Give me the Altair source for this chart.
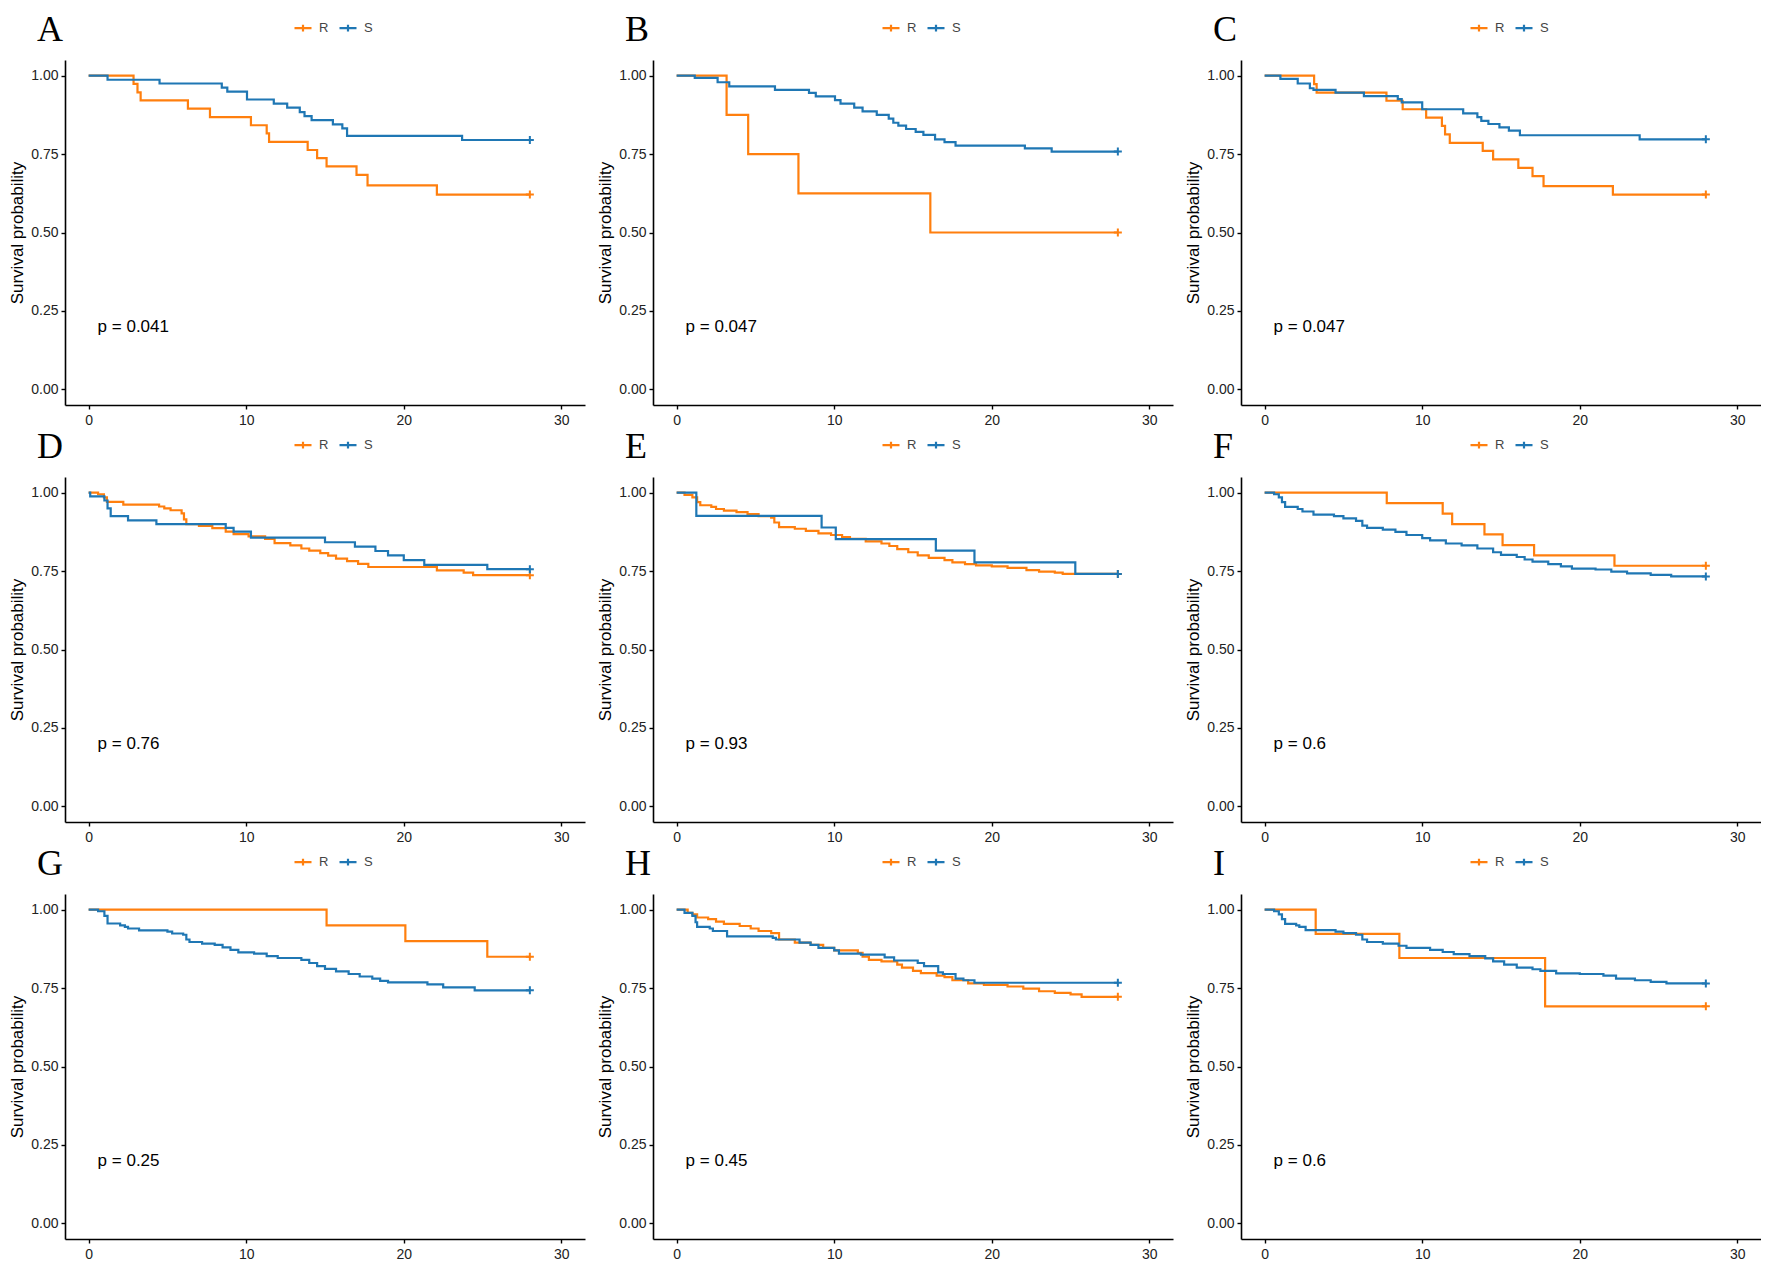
import altair as alt
import pandas as pd

ORANGE = "#FF7F0E"
BLUE = "#1F77B4"
GROUPS = ["R", "S"]
LETTERS = ["A", "B", "C", "D", "E", "F", "G", "H", "I"]
PVALS = ["p = 0.041", "p = 0.047", "p = 0.047", "p = 0.76", "p = 0.93",
         "p = 0.6", "p = 0.25", "p = 0.45", "p = 0.6"]
X_TICKS = [0, 10, 20, 30]
Y_TICKS = [0.0, 0.25, 0.5, 0.75, 1.0]
PVAL_X = [0.57]
PVAL_Y = [0.2]

# ---- Panel A ----
A_R_t = [0, 2.85, 3.1, 3.3, 6.3, 7.7, 10.3, 11.3, 11.45, 13.9, 14.5, 15.1, 17.0, 17.7, 22.1, 28.0]
A_R_s = [1.0, 0.974, 0.947, 0.921, 0.895, 0.868, 0.842, 0.816, 0.789, 0.763, 0.737, 0.711, 0.684, 0.65, 0.621, 0.621]
A_S_t = [0, 1.2, 4.5, 8.45, 8.8, 10.05, 11.75, 12.6, 13.4, 13.7, 14.15, 15.5, 16.1, 16.4, 23.7, 28.0]
A_S_s = [1.0, 0.987, 0.975, 0.962, 0.949, 0.924, 0.911, 0.898, 0.884, 0.871, 0.858, 0.845, 0.832, 0.808, 0.795, 0.795]
# ---- Panel B ----
B_R_t = [0, 3.17, 4.54, 7.73, 16.1, 28.0]
B_R_s = [1.0, 0.875, 0.75, 0.625, 0.5, 0.5]
B_S_t = [0, 1.15, 2.6, 3.34, 6.24, 8.4, 8.83, 10.05, 10.4, 11.27, 11.8, 12.7, 13.46, 13.75, 14.07,
         14.56, 15.17, 15.66, 16.4, 17.0, 17.7, 22.1, 23.8, 28.0]
B_S_s = [1.0, 0.993, 0.979, 0.966, 0.955, 0.945, 0.934, 0.922, 0.911, 0.898, 0.886, 0.875, 0.863, 0.85,
         0.841, 0.83, 0.821, 0.811, 0.797, 0.788, 0.777, 0.768, 0.758, 0.758]
# ---- Panel C ----
C_R_t = [0, 3.14, 3.3, 7.73, 8.76, 10.25, 11.25, 11.45, 11.75, 13.84, 14.5, 16.1, 17.0, 17.7, 22.1, 28.0]
C_R_s = [1.0, 0.973, 0.946, 0.92, 0.893, 0.866, 0.84, 0.813, 0.786, 0.76, 0.733, 0.706, 0.68, 0.648, 0.621, 0.621]
C_S_t = [0, 1.0, 2.1, 2.87, 3.1, 4.5, 6.3, 8.45, 8.7, 10.0, 12.6, 13.5, 13.75, 14.2, 14.9, 15.5, 16.2, 23.8, 28.0]
C_S_s = [1.0, 0.99, 0.975, 0.96, 0.955, 0.946, 0.935, 0.925, 0.915, 0.893, 0.88, 0.868, 0.856, 0.846,
         0.835, 0.825, 0.81, 0.797, 0.797]
# ---- Panel D ----
D_R_t = [0, 0.6, 0.97, 1.16, 2.2, 4.47, 4.8, 5.2, 5.9, 6.05, 6.2, 7.0, 7.85, 8.7, 9.2, 10.15, 11.2, 11.8,
         12.8, 13.5, 14.0, 14.7, 15.2, 15.7, 16.4, 17.1, 17.75, 22.1, 23.8, 24.4, 28.0]
D_R_s = [1.0, 0.995, 0.985, 0.971, 0.962, 0.956, 0.95, 0.944, 0.934, 0.915, 0.9, 0.894, 0.887, 0.876,
         0.868, 0.861, 0.853, 0.839, 0.832, 0.822, 0.815, 0.807, 0.799, 0.79, 0.782, 0.773, 0.763, 0.752,
         0.745, 0.737, 0.737]
D_S_t = [0, 0.1, 1.0, 1.2, 1.4, 2.5, 4.3, 8.7, 9.2, 10.3, 15.0, 16.9, 18.2, 19.0, 20.0, 21.3, 25.3, 28.0]
D_S_s = [1.0, 0.988, 0.975, 0.95, 0.925, 0.912, 0.9, 0.888, 0.876, 0.857, 0.842, 0.828, 0.814, 0.8,
         0.785, 0.77, 0.756, 0.756]
# ---- Panel E ----
E_R_t = [0, 0.5, 1.0, 1.3, 1.5, 2.2, 2.5, 3.0, 3.8, 4.5, 5.2, 6.0, 6.2, 6.5, 7.5, 8.2, 9.0, 9.8, 10.5,
         11.0, 12.0, 13.0, 13.5, 14.0, 14.7, 15.3, 16.0, 17.0, 17.5, 18.3, 19.0, 20.0, 21.0, 22.2, 23.0,
         24.0, 24.5, 28.0]
E_R_s = [1.0, 0.993, 0.985, 0.97, 0.96, 0.955, 0.948, 0.943, 0.938, 0.932, 0.925, 0.92, 0.905, 0.89,
         0.885, 0.878, 0.87, 0.865, 0.858, 0.853, 0.845, 0.838, 0.83, 0.82, 0.81, 0.8, 0.792, 0.785,
         0.778, 0.772, 0.768, 0.765, 0.76, 0.753, 0.748, 0.745, 0.741, 0.741]
E_S_t = [0, 1.25, 9.2, 10.1, 16.45, 18.9, 25.3, 28.0]
E_S_s = [1.0, 0.926, 0.889, 0.852, 0.815, 0.778, 0.741, 0.741]
# ---- Panel F ----
F_R_t = [0, 7.75, 11.3, 11.9, 13.95, 15.1, 17.1, 22.2, 28.0]
F_R_s = [1.0, 0.967, 0.933, 0.9, 0.867, 0.833, 0.8, 0.767, 0.767]
F_S_t = [0, 0.6, 0.9, 1.1, 1.3, 2.1, 2.4, 3.1, 4.4, 5.0, 5.8, 6.2, 6.5, 7.5, 8.3, 9.0, 10.0, 10.5,
         11.5, 12.5, 13.5, 14.5, 15.0, 16.0, 16.5, 17.0, 18.0, 18.8, 19.5, 21.0, 22.0, 23.0, 24.5, 25.8, 28.0]
F_S_s = [1.0, 0.995, 0.985, 0.97, 0.955, 0.948, 0.94, 0.93, 0.925, 0.918, 0.91, 0.895, 0.888, 0.882,
         0.875, 0.865, 0.855, 0.848, 0.838, 0.832, 0.822, 0.81, 0.802, 0.795, 0.787, 0.78, 0.772, 0.765,
         0.758, 0.755, 0.748, 0.743, 0.738, 0.733, 0.733]
# ---- Panel G ----
G_R_t = [0, 15.1, 20.1, 25.3, 28.0]
G_R_s = [1.0, 0.95, 0.9, 0.85, 0.85]
G_S_t = [0, 0.6, 1.0, 1.2, 2.0, 2.3, 2.5, 3.2, 5.0, 5.3, 6.0, 6.2, 6.4, 7.2, 8.0, 8.5, 9.0, 9.5, 10.5,
         11.3, 12.0, 13.5, 14.0, 14.5, 15.0, 15.7, 16.5, 17.2, 18.0, 18.5, 19.0, 21.5, 22.5, 24.5, 28.0]
G_S_s = [1.0, 0.995, 0.98, 0.956, 0.95, 0.945, 0.94, 0.934, 0.93, 0.924, 0.92, 0.905, 0.897, 0.892,
         0.888, 0.88, 0.872, 0.864, 0.86, 0.852, 0.846, 0.84, 0.83, 0.82, 0.811, 0.803, 0.795, 0.787,
         0.78, 0.773, 0.768, 0.762, 0.752, 0.743, 0.743]
# ---- Panel H ----
H_R_t = [0, 0.7, 1.0, 1.3, 2.0, 2.5, 3.0, 4.0, 4.7, 5.2, 6.0, 6.5, 7.5, 8.5, 9.3, 10.0, 11.5, 11.8,
         12.2, 13.0, 14.0, 14.3, 15.0, 15.5, 16.5, 17.0, 17.5, 18.5, 19.5, 21.0, 22.0, 23.0, 24.0, 25.0,
         25.7, 28.0]
H_R_s = [1.0, 0.99, 0.985, 0.975, 0.97, 0.962, 0.955, 0.948, 0.94, 0.932, 0.925, 0.905, 0.895, 0.888,
         0.878, 0.87, 0.862, 0.85, 0.84, 0.835, 0.825, 0.815, 0.805, 0.798, 0.79, 0.785, 0.775, 0.765,
         0.76, 0.755, 0.748, 0.74, 0.735, 0.73, 0.722, 0.722]
H_S_t = [0, 0.5, 1.0, 1.2, 1.3, 2.1, 2.3, 3.2, 6.1, 6.3, 7.8, 8.5, 9.0, 10.0, 10.3, 11.7, 13.2, 13.8,
         15.3, 15.7, 16.6, 16.9, 17.7, 18.2, 18.9, 28.0]
H_S_s = [1.0, 0.99, 0.98, 0.96, 0.945, 0.94, 0.932, 0.915, 0.91, 0.905, 0.895, 0.888, 0.878, 0.87,
         0.86, 0.857, 0.848, 0.838, 0.83, 0.82, 0.8, 0.795, 0.78, 0.775, 0.767, 0.767]
# ---- Panel I ----
I_R_t = [0, 3.24, 8.55, 17.8, 28.0]
I_R_s = [1.0, 0.923, 0.846, 0.692, 0.692]
I_S_t = [0, 0.6, 0.9, 1.1, 1.3, 2.0, 2.2, 2.6, 4.5, 5.0, 5.8, 6.2, 6.5, 7.5, 8.5, 9.0, 10.5, 11.3,
         12.0, 13.0, 14.0, 14.5, 15.2, 16.0, 17.0, 17.5, 18.5, 20.0, 21.5, 22.3, 23.5, 24.5, 25.5, 28.0]
I_S_s = [1.0, 0.995, 0.985, 0.97, 0.955, 0.95, 0.945, 0.935, 0.93, 0.925, 0.92, 0.905, 0.897, 0.892,
         0.885, 0.878, 0.872, 0.865, 0.858, 0.852, 0.845, 0.835, 0.825, 0.815, 0.81, 0.805, 0.797, 0.795,
         0.79, 0.78, 0.775, 0.77, 0.765, 0.765]

CURVES = [
    (A_R_t, A_R_s, A_S_t, A_S_s), (B_R_t, B_R_s, B_S_t, B_S_s), (C_R_t, C_R_s, C_S_t, C_S_s),
    (D_R_t, D_R_s, D_S_t, D_S_s), (E_R_t, E_R_s, E_S_t, E_S_s), (F_R_t, F_R_s, F_S_t, F_S_s),
    (G_R_t, G_R_s, G_S_t, G_S_s), (H_R_t, H_R_s, H_S_t, H_S_s), (I_R_t, I_R_s, I_S_t, I_S_s),
]

FONT = "Liberation Sans"
W, H = 520, 345
LEGEND_SYMBOL = "M-1,0L1,0M0,-0.4L0,0.4"
CENSOR = "M-1,0L1,0M0,-1L0,1"

color_scale = alt.Scale(domain=GROUPS, range=[ORANGE, BLUE])
x_scale = alt.Scale(domain=[-1.5, 31.5], nice=False, zero=False)
y_scale = alt.Scale(domain=[-0.05, 1.05], nice=False, zero=False)


def panel(letter, curves, pval):
    rt, rs, st, ss = curves
    rows = [{"t": t, "s": s, "group": "R"} for t, s in zip(rt, rs)]
    rows += [{"t": t, "s": s, "group": "S"} for t, s in zip(st, ss)]
    df = pd.DataFrame(rows)
    ends = df.groupby("group").tail(1)
    ptxt = pd.DataFrame({"x": PVAL_X, "y": PVAL_Y, "label": [pval]})

    lines = alt.Chart(df).mark_line(interpolate="step-after", strokeWidth=2.2).encode(
        x=alt.X("t:Q", scale=x_scale,
                axis=alt.Axis(values=X_TICKS, format="d", title=None, labelPadding=4)),
        y=alt.Y("s:Q", scale=y_scale,
                axis=alt.Axis(values=Y_TICKS, format=".2f", title="Survival probability")),
        color=alt.Color("group:N", scale=color_scale, legend=alt.Legend(
            orient="none", legendX=228, legendY=-42, direction="horizontal", title=None,
            symbolType=LEGEND_SYMBOL, symbolSize=289, symbolStrokeWidth=2.2,
            labelFont=FONT, labelFontSize=13, labelColor="#444444",
            labelOffset=6, columnPadding=6)),
    )
    marks = alt.Chart(ends).mark_point(shape=CENSOR, filled=False, size=64,
                                       strokeWidth=2, opacity=1).encode(
        x="t:Q", y="s:Q",
        color=alt.Color("group:N", scale=color_scale, legend=None),
    )
    text = alt.Chart(ptxt).mark_text(align="left", baseline="middle", font=FONT,
                                     fontSize=17, color="black").encode(
        x="x:Q", y="y:Q", text="label:N")
    return alt.layer(lines, marks, text).properties(
        width=W, height=H,
        title=alt.TitleParams(letter, anchor="start", frame="group", font="Liberation Serif",
                              fontSize=36, fontWeight="normal", color="black",
                              dx=-28, offset=-31),
    )


panels = [panel(LETTERS[i], CURVES[i], PVALS[i]) for i in range(9)]
chart = alt.concat(
    *panels, columns=3, spacing={"row": 72, "column": 68}, bounds="flush"
).resolve_legend(color="independent").properties(
    padding={"left": 0, "top": 4, "right": 0, "bottom": 0},
    background="white",
).configure_view(stroke=None).configure_axis(
    grid=False, domainColor="black", domainWidth=1.6, tickColor="black", tickSize=4,
    tickWidth=1.4, labelFont=FONT, labelFontSize=14, labelColor="#222222", labelPadding=3,
    titleFont=FONT, titleFontSize=17, titleFontWeight="normal", titleColor="black", titlePadding=4,
)

chart.save("out.html", embed_options={"renderer": "svg", "actions": False})
